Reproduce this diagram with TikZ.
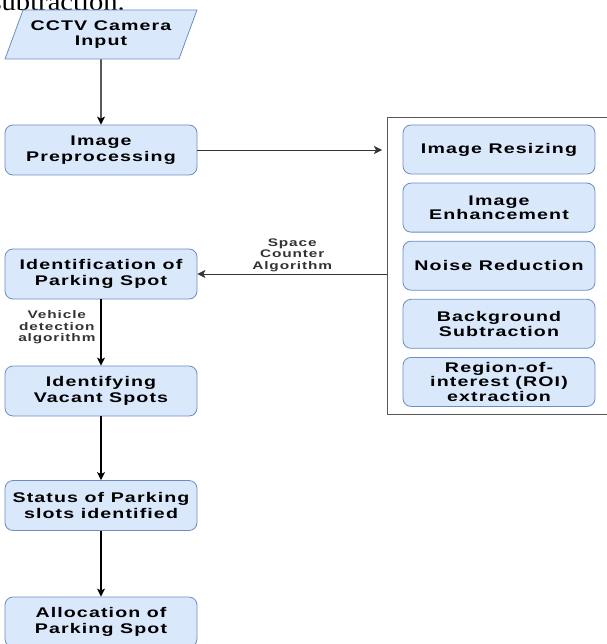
\documentclass[tikz,border=0pt]{standalone}
\usepackage{fontspec}
\setmainfont{Liberation Serif}
\newfontfamily\flowfont{Liberation Sans}[FakeStretch=1.4,LetterSpace=8]
\newfontfamily\pagefont{Liberation Serif}[FakeStretch=1.1]
\usetikzlibrary{arrows.meta,shapes.geometric}
\definecolor{boxfill}{HTML}{DAE8FC}
\definecolor{boxline}{HTML}{6C8EBF}
\tikzset{
    flowbox/.style={
        draw=boxline,
        fill=boxfill,
        line width=0.8pt,
        rounded corners=8pt,
        minimum width=192pt,
        minimum height=50pt,
        inner sep=0pt,
        align=center,
        font=\flowfont\bfseries\fontsize{14}{15.5}\selectfont
    },
    inputbox/.style={
        flowbox,
        rounded corners=0pt,
        trapezium,
        trapezium left angle=60,
        trapezium right angle=120,
        trapezium stretches=true,
        minimum height=49pt
    },
    edgelabel/.style={
        align=center,
        inner sep=0pt,
        text=black!80,
        font=\flowfont\bfseries\fontsize{11}{11.5}\selectfont
    },
    flowarrow/.style={
        -{Stealth[length=8pt,width=8pt,inset=2pt]},
        line width=1.1pt
    },
    sidearrow/.style={
        flowarrow,
        line width=0.8pt,
        black!80
    }
}
\begin{document}
\begin{tikzpicture}[x=1pt,y=-1pt]
    \useasboundingbox (0,0) rectangle (606,644);
    \node [anchor=base east, inner sep=0pt, font=\pagefont\fontsize{26}{26}\selectfont] (prevtext) at (125,11) {subtraction.};
    \node [inputbox] (cam) at (101,34.5) {CCTV Camera\\Input};
    \node [flowbox] (prep) at (101,150) {Image\\Preprocessing};
    \node [flowbox] (ident) at (101,274) {Identification of\\Parking Spot};
    \node [flowbox] (vacant) at (101,391) {Identifying\\Vacant Spots};
    \node [flowbox] (status) at (101,505.5) {Status of Parking\\slots identified};
    \node [flowbox] (alloc) at (101,622) {Allocation of\\Parking Spot};
    \node [anchor=north west, minimum width=235pt, minimum height=297pt, inner sep=0pt] (stages) at (387,117) {};
    \draw [black!65, line width=0.8pt] (stages.north east) -- (stages.north west) -- (stages.south west) -- (stages.south east);
    \foreach \name/\txt [count=\i] in {resize/Image Resizing, enhance/Image\\Enhancement, noise/Noise Reduction, backsub/Background\\Subtraction, roi/Region-of-\\interest (ROI)\\extraction}
        \node [flowbox, minimum height=49pt, font=\flowfont\bfseries\fontsize{14}{14.5}\selectfont] (\name) at (499,{149.5+58.1*(\i-1)}) {\txt};
    \coordinate (tostages) at (382,150);
    \foreach \a/\b in {cam/prep, vacant/status, status/alloc}
        \draw [flowarrow] (\a) -- (\b);
    \draw [flowarrow] (ident) -- (vacant) node [pos=0.42, left=5pt, edgelabel] {Vehicle\\detection\\algorithm};
    \draw [sidearrow] (prep) -- (tostages);
    \draw [sidearrow] (stages.west |- ident.east) -- (ident.east) node [midway, above=2pt, edgelabel] {Space\\Counter\\Algorithm};
\end{tikzpicture}
\end{document}
